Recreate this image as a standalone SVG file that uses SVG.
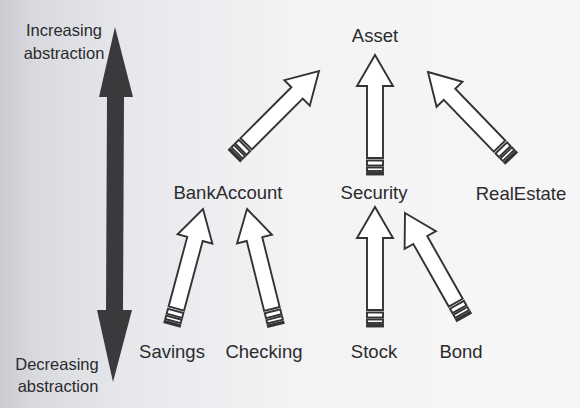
<svg xmlns="http://www.w3.org/2000/svg" xmlns:xlink="http://www.w3.org/1999/xlink" width="580" height="408" viewBox="0 0 580 408">
  <style>
    .lbl { font-family: "Liberation Sans", Arial, sans-serif; font-size: 18.5px; fill: #2b2b2d; text-anchor: middle; }
    .side { font-family: "Liberation Sans", Arial, sans-serif; font-size: 16.5px; fill: #2b2b2d; text-anchor: middle; }
    .ho { fill: #ffffff; stroke: #333335; stroke-width: 1.9; stroke-linejoin: miter; }
  </style>
  <defs>
    <linearGradient id="bg" x1="0" y1="0" x2="1" y2="0">
      <stop offset="0" stop-color="#cbccd2"/>
      <stop offset="0.06" stop-color="#d9dadf"/>
      <stop offset="0.22" stop-color="#e7e8ec"/>
      <stop offset="0.5" stop-color="#f3f3f5"/>
      <stop offset="1" stop-color="#f7f7f7"/>
    </linearGradient>
    <g id="hollow">
      <polygon class="ho" points="0,0 18,31 8,31 8,103 -8,103 -8,31 -18,31"/>
      <rect class="ho" x="-8" y="105.5" width="16" height="5"/>
      <rect class="ho" x="-8" y="112.5" width="16" height="3.5"/>
      <rect class="ho" x="-8" y="118" width="16" height="1.5"/>
    </g>
  </defs>
  <rect x="0" y="0" width="580" height="408" fill="url(#bg)"/>

  <g id="abstraction-scale">
    <polygon points="115,27 133,97 124,97 123,310 132,310 113,382 97,310 106,310 107,97 99,97" fill="#3a3a3d"/>
    <text class="side" x="64" y="36">Increasing</text>
    <text class="side" x="64" y="59">abstraction</text>
    <text class="side" x="57" y="370">Decreasing</text>
    <text class="side" x="58" y="392">abstraction</text>
  </g>

  <g id="connectors">
    <use xlink:href="#hollow" transform="translate(319,71) rotate(45)"/>
    <use xlink:href="#hollow" transform="translate(375,55)"/>
    <use xlink:href="#hollow" transform="translate(428,72) rotate(-44)"/>
    <use xlink:href="#hollow" transform="translate(203,209) rotate(15)"/>
    <use xlink:href="#hollow" transform="translate(247,209) rotate(-14)"/>
    <use xlink:href="#hollow" transform="translate(375,207)"/>
    <use xlink:href="#hollow" transform="translate(405,213) rotate(-29.5)"/>
  </g>

  <g id="asset"><text class="lbl" x="375" y="42">Asset</text></g>
  <g id="bankaccount"><text class="lbl" x="228" y="199">BankAccount</text></g>
  <g id="security"><text class="lbl" x="374" y="199">Security</text></g>
  <g id="realestate"><text class="lbl" x="521" y="200">RealEstate</text></g>
  <g id="savings"><text class="lbl" x="172" y="358">Savings</text></g>
  <g id="checking"><text class="lbl" x="264" y="358">Checking</text></g>
  <g id="stock"><text class="lbl" x="374" y="358">Stock</text></g>
  <g id="bond"><text class="lbl" x="461" y="358">Bond</text></g>
</svg>
